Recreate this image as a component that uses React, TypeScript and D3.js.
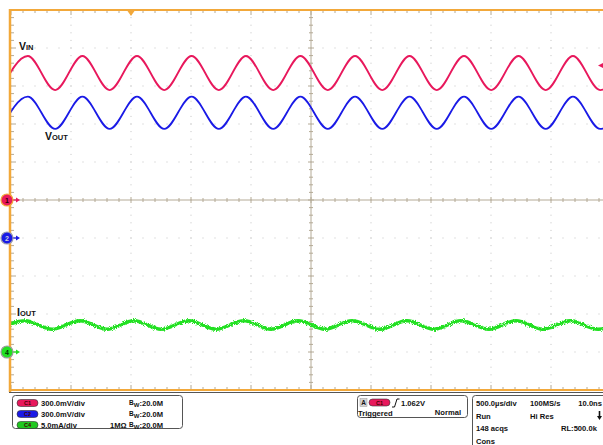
import React, { useRef, useEffect } from "react";
import * as d3 from "d3";

// scope settings
const timePerDiv = 500; // µs/div
const triggerDiv = 2; // trigger point, divisions from the left edge
const ch1VoltsPerDiv = 0.3;
const ch2VoltsPerDiv = 0.3;
const ch4MilliampsPerDiv = 5;
const ch1Ground = 0; // divisions from centre
const ch2Ground = -1;
const ch4Ground = -4;

// extrema of the traces (µs, V / mA), trough first
const sineTimes = [-1085, -860, -632, -405, -178, 50, 277, 505, 732, 958, 1185, 1412, 1640, 1867, 2094, 2321, 2548, 2775, 3002, 3229, 3456, 3683, 3910, 4137];
const vinLevels = [0.868, 1.137, 0.868, 1.137, 0.868, 1.137, 0.868, 1.137, 0.868, 1.137, 0.868, 1.137, 0.868, 1.137, 0.868, 1.137, 0.868, 1.137, 0.868, 1.137, 0.868, 1.137, 0.868, 1.137];
const voutLevels = [0.861, 1.116, 0.861, 1.116, 0.861, 1.116, 0.861, 1.116, 0.861, 1.116, 0.861, 1.116, 0.861, 1.116, 0.861, 1.116, 0.861, 1.116, 0.861, 1.116, 0.861, 1.116, 0.861, 1.116];
const ioutTimes = [-1108, -883, -658, -425, -200, 25, 250, 483, 708, 942, 1167, 1392, 1617, 1842, 2075, 2300, 2525, 2750, 2983, 3208, 3433, 3658, 3892, 4117];
const ioutLevels = [2.99, 4.12, 2.99, 4.12, 2.99, 4.12, 2.99, 4.12, 2.99, 4.12, 2.99, 4.12, 2.99, 4.12, 2.99, 4.12, 2.99, 4.12, 2.99, 4.12, 2.99, 4.12, 2.99, 4.12];

const triggerLevel = 1.062;

const channelRows = [
  { name: "C1", scale: "300.0mV/div", imp: "", bw: "20.0M" },
  { name: "C2", scale: "300.0mV/div", imp: "", bw: "20.0M" },
  { name: "C4", scale: "5.0mA/div", imp: "1MΩ", bw: "20.0M" },
];

const RED = "#e8185c";
const BLUE = "#1a1ae6";
const GREEN = "#22e022";
const ORANGE = "#f2a83a";
const FONT = "'Liberation Sans', Arial, sans-serif";

const App = () => {
  const ref = useRef(null);

  useEffect(() => {
    const svg = d3.select(ref.current);
    svg.selectAll("*").remove();

    const left = 11, top = 10, right = 611, bottom = 390;
    const xDiv = d3.scaleLinear().domain([0, 10]).range([left, right]);
    const yDiv = d3.scaleLinear().domain([-5, 5]).range([bottom, top]);
    const xTime = (t) => xDiv(t / timePerDiv + triggerDiv);

    const defs = svg.append("defs");
    defs.append("clipPath").attr("id", "plot").append("rect")
      .attr("x", left).attr("y", top).attr("width", right - left).attr("height", bottom - top);
    const f = defs.append("filter").attr("id", "fuzz")
      .attr("filterUnits", "userSpaceOnUse")
      .attr("x", 0).attr("y", 280).attr("width", 620).attr("height", 90);
    f.append("feTurbulence").attr("type", "fractalNoise").attr("baseFrequency", 1.1)
      .attr("numOctaves", 1).attr("seed", 4).attr("result", "n");
    f.append("feDisplacementMap").attr("in", "SourceGraphic").attr("in2", "n")
      .attr("scale", 4.5).attr("xChannelSelector", "R").attr("yChannelSelector", "G");

    svg.append("rect").attr("width", 603).attr("height", 445).attr("fill", "#fff");

    // dotted grid
    const minorX = d3.range(0, 10.001, 0.2);
    const minorY = d3.range(-5, 5.001, 0.2);
    const grid = svg.append("g").attr("fill", "#c4c4c4");
    [1, 2, 3, 4, 6, 7, 8, 9].forEach((i) => {
      minorY.forEach((v) => grid.append("rect").attr("x", xDiv(i) - 0.5).attr("y", yDiv(v) - 0.5).attr("width", 1).attr("height", 1));
    });
    [-4, -3, -2, -1, 1, 2, 3, 4].forEach((j) => {
      minorX.forEach((v) => grid.append("rect").attr("x", xDiv(v) - 0.5).attr("y", yDiv(j) - 0.5).attr("width", 1).attr("height", 1));
    });

    // centre cross + edge ticks
    const axis = svg.append("g").attr("stroke", "#b4aa96").attr("stroke-width", 1);
    axis.append("line").attr("x1", xDiv(5)).attr("x2", xDiv(5)).attr("y1", top).attr("y2", bottom);
    axis.append("line").attr("x1", left).attr("x2", right).attr("y1", yDiv(0)).attr("y2", yDiv(0));
    minorY.forEach((v, k) => {
      const w = k % 5 === 0 ? 3 : 2;
      axis.append("line").attr("x1", xDiv(5) - w).attr("x2", xDiv(5) + w).attr("y1", yDiv(v)).attr("y2", yDiv(v));
      axis.append("line").attr("x1", left).attr("x2", left + (k % 5 === 0 ? 5 : 3)).attr("y1", yDiv(v)).attr("y2", yDiv(v));
    });
    minorX.forEach((v, k) => {
      const w = k % 5 === 0 ? 3 : 2;
      axis.append("line").attr("x1", xDiv(v)).attr("x2", xDiv(v)).attr("y1", yDiv(0) - w).attr("y2", yDiv(0) + w);
      axis.append("line").attr("x1", xDiv(v)).attr("x2", xDiv(v)).attr("y1", top).attr("y2", top + (k % 5 === 0 ? 5 : 3));
      axis.append("line").attr("x1", xDiv(v)).attr("x2", xDiv(v)).attr("y1", bottom).attr("y2", bottom - (k % 5 === 0 ? 5 : 3));
    });

    // traces
    const traces = svg.append("g").attr("clip-path", "url(#plot)").attr("fill", "none");
    const makeLine = (times, vals, perDiv, ground) =>
      d3.line().x((d, i) => xTime(times[i])).y((d) => yDiv(d / perDiv + ground)).curve(d3.curveMonotoneX)(vals);
    traces.append("path").attr("d", makeLine(sineTimes, vinLevels, ch1VoltsPerDiv, ch1Ground))
      .attr("stroke", RED).attr("stroke-width", 1.8);
    traces.append("path").attr("d", makeLine(sineTimes, voutLevels, ch2VoltsPerDiv, ch2Ground))
      .attr("stroke", BLUE).attr("stroke-width", 1.8);
    traces.append("path").attr("d", makeLine(ioutTimes, ioutLevels, ch4MilliampsPerDiv, ch4Ground))
      .attr("stroke", GREEN).attr("stroke-width", 3.4).attr("filter", "url(#fuzz)");

    // frame
    svg.append("line").attr("x1", 10).attr("x2", 603).attr("y1", top).attr("y2", top).attr("stroke", ORANGE).attr("stroke-width", 2);
    svg.append("line").attr("x1", 10).attr("x2", 10).attr("y1", top - 1).attr("y2", bottom + 2).attr("stroke", ORANGE).attr("stroke-width", 2.5);
    svg.append("line").attr("x1", 9).attr("x2", 603).attr("y1", bottom).attr("y2", bottom).attr("stroke", ORANGE).attr("stroke-width", 2);
    svg.append("line").attr("x1", 9).attr("x2", 603).attr("y1", bottom + 2.5).attr("y2", bottom + 2.5).attr("stroke", "#555").attr("stroke-width", 1);

    // trigger position & level markers
    const tx = xTime(0);
    svg.append("path").attr("d", `M${tx - 3.5},${top + 1}L${tx + 3.5},${top + 1}L${tx},${top + 6}Z`).attr("fill", ORANGE);
    const ty = yDiv(triggerLevel / ch1VoltsPerDiv + ch1Ground);
    svg.append("path").attr("d", `M598,${ty}L603,${ty - 2.5}L603,${ty + 2.5}Z`).attr("fill", RED);

    // channel ground markers
    [
      { label: "1", div: ch1Ground, color: RED, ring: ORANGE, text: "#300" },
      { label: "2", div: ch2Ground, color: BLUE, ring: "#9a9ab0", text: "#ccd" },
      { label: "4", div: ch4Ground, color: GREEN, ring: "#9a9a9a", text: "#030" },
    ].forEach((m) => {
      const y = yDiv(m.div);
      svg.append("line").attr("x1", 12).attr("x2", 17).attr("y1", y).attr("y2", y).attr("stroke", m.color).attr("stroke-width", 1.2);
      svg.append("path").attr("d", `M16,${y - 2.5}L20,${y}L16,${y + 2.5}Z`).attr("fill", m.color);
      svg.append("circle").attr("cx", 7).attr("cy", y).attr("r", 6).attr("fill", m.color).attr("stroke", m.ring).attr("stroke-width", 1.2);
      svg.append("text").attr("x", 7).attr("y", y + 2.5).attr("text-anchor", "middle")
        .attr("font-family", FONT).attr("font-size", 7).attr("font-weight", "bold").attr("fill", m.text).text(m.label);
    });

    // trace labels
    const label = (x, y, big, small) => {
      const t = svg.append("text").attr("x", x).attr("y", y).attr("font-family", FONT).attr("font-weight", "bold").attr("fill", "#111");
      t.append("tspan").attr("font-size", 10.5).text(big);
      t.append("tspan").attr("font-size", 7.5).text(small);
    };
    label(19, 50, "V", "IN");
    label(45, 140, "V", "OUT");
    label(17, 316, "I", "OUT");

    // readout panel
    const panel = svg.append("g").attr("font-family", FONT).attr("font-size", 7.6).attr("font-weight", "bold").attr("fill", "#111");
    const pill = (x, y, color, name) => {
      panel.append("rect").attr("x", x).attr("y", y - 3.5).attr("width", 21).attr("height", 7).attr("rx", 3.5)
        .attr("fill", color).attr("stroke", "#333").attr("stroke-width", 0.6);
      panel.append("text").attr("x", x + 10.5).attr("y", y + 2).attr("text-anchor", "middle").attr("font-size", 5.5)
        .attr("fill", "#400").text(name);
    };
    panel.append("rect").attr("x", 12.5).attr("y", 395.5).attr("width", 170).attr("height", 33).attr("rx", 3)
      .attr("fill", "none").attr("stroke", "#555").attr("stroke-width", 1);
    const rowColors = [RED, BLUE, "#20c820"];
    channelRows.forEach((r, i) => {
      const y = 403 + i * 11;
      pill(17, y, rowColors[i], r.name);
      panel.append("text").attr("x", 41).attr("y", y + 3).text(r.scale);
      if (r.imp) panel.append("text").attr("x", 110).attr("y", y + 3).text(r.imp);
      const bw = panel.append("text").attr("x", 129).attr("y", y + 3);
      bw.append("tspan").attr("font-size", 6.5).attr("dy", -1).text("B");
      bw.append("tspan").attr("font-size", 6).attr("dy", 2).text("W");
      bw.append("tspan").attr("dy", -1).text(":" + r.bw);
    });

    // trigger box
    panel.append("rect").attr("x", 357.5).attr("y", 395.5).attr("width", 110).attr("height", 22).attr("rx", 3)
      .attr("fill", "none").attr("stroke", "#555").attr("stroke-width", 1);
    panel.append("rect").attr("x", 360).attr("y", 398.5).attr("width", 7).attr("height", 8).attr("fill", "#d4d4d4").attr("stroke", "#999").attr("stroke-width", 0.5);
    panel.append("text").attr("x", 363.5).attr("y", 405).attr("text-anchor", "middle").attr("font-size", 6.5).text("A");
    pill(369, 402.5, RED, "C1");
    panel.append("path").attr("d", "M392,407L394.5,407L397,399L399.5,399").attr("fill", "none").attr("stroke", "#111").attr("stroke-width", 1);
    panel.append("text").attr("x", 401).attr("y", 405.5).text(`${triggerLevel.toFixed(3)}V`);
    panel.append("text").attr("x", 358).attr("y", 415.5).text("Triggered");
    panel.append("text").attr("x", 461).attr("y", 414.5).attr("text-anchor", "end").text("Normal");

    // acquisition box
    panel.append("path").attr("d", "M472.5,445L472.5,398.5Q472.5,395.5 475.5,395.5L603,395.5")
      .attr("fill", "none").attr("stroke", "#555").attr("stroke-width", 1);
    panel.append("text").attr("x", 476).attr("y", 406).text(`${timePerDiv.toFixed(1)}µs/div`);
    panel.append("text").attr("x", 530).attr("y", 406).text("100MS/s");
    panel.append("text").attr("x", 602).attr("y", 406).attr("text-anchor", "end").text("10.0ns");
    panel.append("text").attr("x", 476).attr("y", 418.5).text("Run");
    panel.append("text").attr("x", 530).attr("y", 418.5).text("Hi Res");
    panel.append("line").attr("x1", 599.5).attr("x2", 599.5).attr("y1", 411).attr("y2", 417).attr("stroke", "#111").attr("stroke-width", 1.6);
    panel.append("path").attr("d", "M597,416L602,416L599.5,420Z").attr("fill", "#111");
    panel.append("text").attr("x", 476).attr("y", 431).text("148 acqs");
    panel.append("text").attr("x", 561).attr("y", 431).text("RL:500.0k");
    panel.append("text").attr("x", 476).attr("y", 443.5).text("Cons");
  }, []);

  return (
    <div style={{ position: "absolute", left: 0, top: 0, width: 603, height: 445, overflow: "hidden" }}>
      <svg ref={ref} width={603} height={445} style={{ display: "block" }} />
    </div>
  );
};

export default App;
